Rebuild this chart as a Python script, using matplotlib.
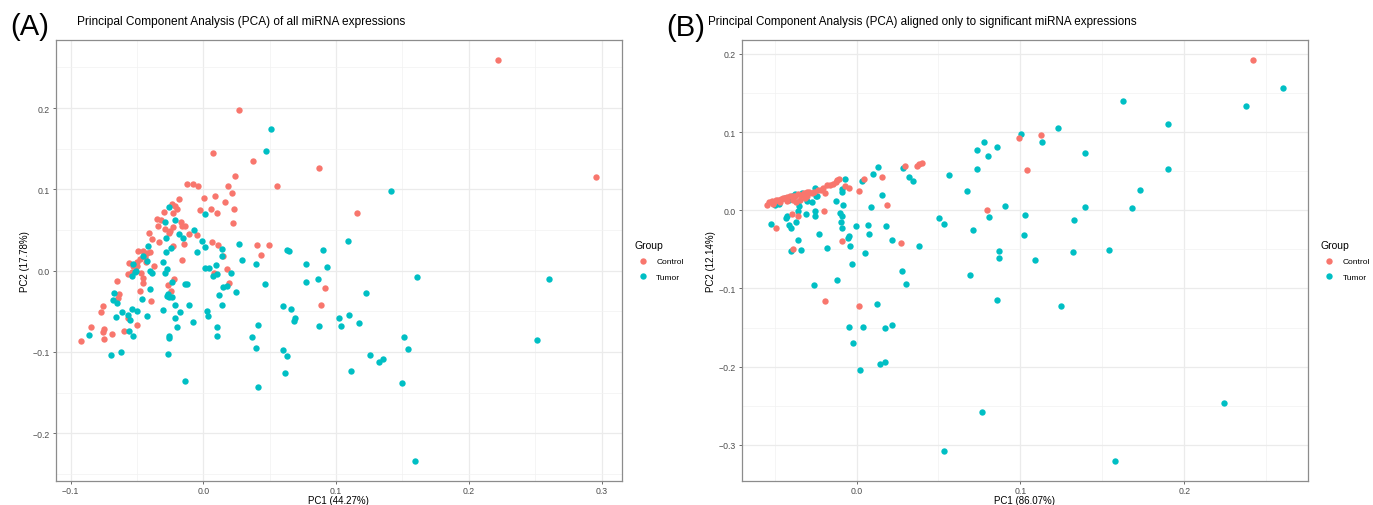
import matplotlib
matplotlib.use("Agg")
import matplotlib.pyplot as plt
from matplotlib.ticker import MultipleLocator, FuncFormatter

plt.rcParams["font.family"] = ["Liberation Sans", "DejaVu Sans"]

CONTROL_COLOR = "#F8766D"
TUMOR_COLOR = "#00BFC4"

# ---- panel A: all miRNA expressions ----
a_control_pc1 = [
    0.0269, 0.0075, 0.0372, 0.0869, 0.0553, 0.0241, -0.0126, -0.0075, -0.0040, 0.0188,
    0.0216, 0.0008, 0.0085, 0.0166, -0.0181, 0.0234, 0.0058, 0.0106, -0.0025, 0.0221,
    -0.0239, -0.0214, -0.0201, -0.0231, -0.0299, -0.0347, -0.0319, -0.0339, -0.0289, -0.0251,
    -0.0226, -0.0261, -0.0163, -0.0141, -0.0171, -0.0407, -0.0389, -0.0337, -0.0111, -0.0050,
    -0.0143, -0.0226, 0.0065, 0.0113, 0.0148, 0.0407, 0.0497, 0.0435, -0.0490, -0.0457,
    -0.0422, -0.0402, -0.0440, -0.0477, -0.0497, -0.0432, -0.0497, -0.0528, -0.0563, -0.0570,
    -0.0540, -0.0472, -0.0369, -0.0161, 0.0083, 0.0178, 0.0191, -0.0221, -0.0264, -0.0246,
    -0.0452, -0.0452, -0.0477, -0.0653, -0.0633, -0.0641, -0.0759, -0.0774, -0.0565, -0.0394,
    -0.0844, -0.0751, -0.0754, -0.0749, -0.0686, -0.0598, -0.0502, -0.0919, 0.0914, 0.0887,
    0.2223, 0.2960, 0.1156,
]
a_control_pc2 = [
    0.1980, 0.1443, 0.1345, 0.1259, 0.1046, 0.1164, 0.1062, 0.1062, 0.1041, 0.1041,
    0.0955, 0.0890, 0.0918, 0.0845, 0.0886, 0.0759, 0.0754, 0.0709, 0.0750, 0.0590,
    0.0816, 0.0791, 0.0758, 0.0705, 0.0726, 0.0636, 0.0627, 0.0554, 0.0513, 0.0492,
    0.0533, 0.0459, 0.0554, 0.0554, 0.0603, 0.0467, 0.0385, 0.0357, 0.0447, 0.0435,
    0.0328, 0.0308, 0.0357, 0.0316, 0.0185, 0.0316, 0.0316, 0.0197, 0.0242, 0.0242,
    0.0217, 0.0226, 0.0164, 0.0144, 0.0103, 0.0103, 0.0062, 0.0062, 0.0094, -0.0041,
    -0.0012, -0.0029, 0.0062, 0.0127, -0.0029, 0.0021, -0.0148, -0.0103, -0.0172, -0.0246,
    -0.0094, -0.0156, -0.0250, -0.0127, -0.0283, -0.0340, -0.0435, -0.0513, -0.0586, -0.0377,
    -0.0689, -0.0718, -0.0759, -0.0841, -0.0779, -0.0738, -0.0664, -0.0869, -0.0209, -0.0422,
    0.2590, 0.1157, 0.0714,
]
a_tumor_pc1 = [
    0.0507, 0.0470, -0.0259, -0.0291, -0.0214, 0.0013, -0.0070, -0.0181, -0.0151, -0.0281,
    -0.0013, 0.0013, -0.0050, 0.0271, 0.0291, 0.0397, 0.0633, 0.0648, 0.0899, 0.0774,
    0.0929, -0.0414, -0.0457, -0.0427, -0.0510, -0.0515, -0.0540, -0.0402, -0.0389, -0.0281,
    -0.0246, -0.0301, -0.0286, -0.0276, -0.0234, -0.0264, -0.0256, -0.0271, -0.0239, -0.0214,
    -0.0301, -0.0214, -0.0176, -0.0201, -0.0256, -0.0261, -0.0266, -0.0138, -0.0121, -0.0111,
    -0.0080, 0.0013, 0.0045, 0.0095, 0.0100, 0.0070, 0.0138, 0.0143, 0.0211, 0.0151,
    0.0181, 0.0116, 0.0143, 0.0030, 0.0038, 0.0100, 0.0100, 0.0244, 0.0465, 0.0603,
    0.0663, 0.0691, 0.0686, 0.0412, 0.0367, 0.0394, 0.0598, 0.0633, 0.0618, 0.0869,
    0.0771, 0.0862, -0.0673, -0.0678, -0.0653, -0.0658, -0.0615, -0.0535, -0.0502, -0.0570,
    -0.0553, -0.0560, -0.0528, -0.0422, -0.0460, -0.0402, -0.0862, -0.0693, -0.0618, -0.0528,
    -0.0140, 0.0412, 0.1410, 0.1088, 0.1613, 0.2607, 0.1228, 0.1020, 0.1100, 0.1040,
    0.1170, 0.1515, 0.1540, 0.1256, 0.1320, 0.1350, 0.1115, 0.1500, 0.2510, 0.1598,
]
a_tumor_pc2 = [
    0.1738, 0.1468, 0.0787, 0.0595, 0.0627, 0.0693, 0.0504, 0.0451, 0.0398, 0.0398,
    0.0369, 0.0287, 0.0226, 0.0328, 0.0135, 0.0086, 0.0258, 0.0242, 0.0258, 0.0082,
    0.0045, 0.0308, 0.0185, 0.0123, 0.0000, -0.0021, -0.0062, 0.0000, -0.0033, 0.0226,
    0.0283, 0.0103, -0.0029, 0.0021, -0.0135, -0.0287, -0.0328, -0.0308, -0.0320, -0.0418,
    -0.0484, -0.0582, -0.0504, -0.0693, -0.0808, -0.0824, -0.1025, -0.0168, -0.0168, -0.0422,
    -0.0627, 0.0033, 0.0033, 0.0070, -0.0041, -0.0070, 0.0267, 0.0185, -0.0033, -0.0205,
    -0.0185, -0.0299, -0.0422, -0.0492, -0.0558, -0.0689, -0.0808, -0.0262, -0.0164, -0.0431,
    -0.0472, -0.0578, -0.0623, -0.0664, -0.0820, -0.0955, -0.0972, -0.1046, -0.1259, -0.0681,
    -0.0139, -0.0103, -0.0271, -0.0357, -0.0398, -0.0574, -0.0504, -0.0472, -0.0500, -0.0541,
    -0.0607, -0.0738, -0.0800, -0.0558, -0.0349, -0.0226, -0.0791, -0.1033, -0.0996, 0.0078,
    -0.1357, -0.1430, 0.0980, 0.0370, -0.0081, -0.0098, -0.0274, -0.0580, -0.0545, -0.0676,
    -0.0650, -0.0810, -0.0960, -0.1040, -0.1120, -0.1086, -0.1234, -0.1385, -0.0849, -0.2337,
]

# ---- panel B: significant miRNA expressions only ----
b_control_pc1 = [
    -0.0544, -0.0532, -0.0518, -0.0504, -0.0491, -0.0477, -0.0463, -0.0451, -0.0437, -0.0422,
    -0.0406, -0.0390, -0.0373, -0.0355, -0.0341, -0.0321, -0.0304, -0.0288, -0.0300, -0.0274,
    -0.0260, -0.0233, -0.0219, -0.0203, -0.0178, -0.0162, -0.0141, -0.0125, -0.0117, -0.0105,
    -0.0070, -0.0044, -0.0192, -0.0467, -0.0427, -0.0390, -0.0369, -0.0345, -0.0314, -0.0512,
    0.0296, 0.0367, 0.0384, 0.0398, 0.0158, 0.0048, 0.0015, 0.0188, -0.0198, -0.0396,
    -0.0355, -0.0491, -0.0091, 0.0270, -0.0386, -0.0190, 0.0017, 0.2422, 0.0994, 0.1128,
    0.1039, 0.0799,
]
b_control_pc2 = [
    0.0068, 0.0102, 0.0119, 0.0102, 0.0127, 0.0136, 0.0145, 0.0153, 0.0162, 0.0170,
    0.0179, 0.0187, 0.0187, 0.0204, 0.0196, 0.0221, 0.0230, 0.0238, 0.0187, 0.0221,
    0.0230, 0.0255, 0.0264, 0.0281, 0.0324, 0.0324, 0.0332, 0.0358, 0.0383, 0.0400,
    0.0306, 0.0281, 0.0221, 0.0102, 0.0119, 0.0127, 0.0102, 0.0127, 0.0153, 0.0076,
    0.0571, 0.0571, 0.0592, 0.0604, 0.0426, 0.0400, 0.0251, 0.0068, -0.0013, -0.0047,
    -0.0077, -0.0230, -0.0388, -0.0418, -0.0494, -0.1155, -0.1228, 0.1922, 0.0929, 0.0967,
    0.0511, 0.0004,
]
b_tumor_pc1 = [
    -0.0524, -0.0497, -0.0471, -0.0437, -0.0410, -0.0410, -0.0396, -0.0375, -0.0335, -0.0325,
    -0.0253, -0.0239, -0.0247, -0.0355, -0.0349, -0.0355, -0.0304, -0.0274, -0.0422, -0.0430,
    -0.0410, -0.0402, -0.0369, -0.0308, -0.0253, -0.0253, -0.0125, -0.0091, -0.0070, -0.0080,
    0.0133, 0.0099, 0.0282, 0.0318, 0.0343, 0.0565, 0.0156, 0.0086, 0.0032, -0.0088,
    0.0506, 0.0534, -0.0101, -0.0087, -0.0095, -0.0087, -0.0003, 0.0070, 0.0076, 0.0180,
    0.0217, 0.0380, -0.0046, -0.0050, -0.0040, -0.0028, 0.0052, -0.0180, -0.0231, -0.0357,
    -0.0337, -0.0402, -0.0259, -0.0117, 0.0278, 0.0300, 0.0123, -0.0044, 0.0042, 0.0172,
    0.0219, -0.0020, 0.0143, 0.0172, 0.0020, 0.0534, 0.2600, 0.2376, 0.1625, 0.1898,
    0.1898, 0.1232, 0.1002, 0.1131, 0.0777, 0.0736, 0.0856, 0.0803, 0.1397, 0.0736,
    0.0677, 0.1729, 0.0905, 0.0809, 0.1027, 0.1395, 0.1682, 0.0709, 0.1328, 0.1023,
    0.0870, 0.0872, 0.1092, 0.1324, 0.1542, 0.0693, 0.0856, 0.1250, 0.0768, 0.2244,
    0.1580,
]
b_tumor_pc2 = [
    -0.0175, 0.0068, 0.0085, 0.0153, 0.0162, 0.0127, 0.0179, 0.0213, 0.0221, 0.0213,
    0.0281, 0.0187, 0.0179, 0.0102, 0.0059, -0.0005, 0.0119, 0.0102, -0.0069, -0.0103,
    -0.0188, -0.0230, -0.0145, -0.0047, -0.0013, -0.0069, 0.0115, 0.0272, 0.0400, 0.0068,
    0.0549, 0.0464, 0.0541, 0.0422, 0.0370, 0.0452, 0.0196, 0.0038, 0.0370, 0.0230,
    -0.0098, -0.0175, -0.0040, -0.0077, -0.0153, -0.0226, -0.0205, -0.0183, -0.0307, -0.0201,
    -0.0376, -0.0452, -0.0333, -0.0358, -0.0452, -0.0691, -0.0550, -0.0486, -0.0303, -0.0376,
    -0.0512, -0.0516, -0.0956, -0.0891, -0.0780, -0.0938, -0.1199, -0.1492, -0.1492, -0.1501,
    -0.1471, -0.1701, -0.1970, -0.1940, -0.2038, -0.3082, 0.1560, 0.1330, 0.1402, 0.1108,
    0.0524, 0.1048, 0.0976, 0.0869, 0.0877, 0.0771, 0.0805, 0.0694, 0.0728, 0.0524,
    0.0243, 0.0260, 0.0059, -0.0086, -0.0056, 0.0042, 0.0029, -0.0248, -0.0124, -0.0312,
    -0.0520, -0.0610, -0.0639, -0.0529, -0.0508, -0.0827, -0.1143, -0.1224, -0.2575, -0.2464,
    -0.3202,
]

W, H = 1373, 506


def _tick_fmt(v, _pos):
    return "{:.1f}".format(v + 0.0).replace("-", "\u2212")


def style_axes(ax, xlabel, ylabel, handles, labels):
    ax.margins(0.05)
    ax.xaxis.set_major_locator(MultipleLocator(0.1))
    ax.yaxis.set_major_locator(MultipleLocator(0.1))
    ax.xaxis.set_minor_locator(MultipleLocator(0.05))
    ax.yaxis.set_minor_locator(MultipleLocator(0.05))
    ax.xaxis.set_major_formatter(FuncFormatter(_tick_fmt))
    ax.yaxis.set_major_formatter(FuncFormatter(_tick_fmt))
    ax.grid(True, which="major", color="#EBEBEB", linewidth=0.9)
    ax.grid(True, which="minor", color="#F2F2F2", linewidth=0.5)
    ax.set_axisbelow(True)
    for spine in ax.spines.values():
        spine.set_color("#8C8C8C")
        spine.set_linewidth(0.9)
    ax.tick_params(which="major", length=2.5, width=0.6, color="#555555",
                   labelsize=6.3, labelcolor="#4D4D4D", pad=1.5)
    ax.tick_params(which="minor", length=0)
    ax.set_xlabel(xlabel, fontsize=7, va="center")
    ax.xaxis.set_label_coords(0.5, -0.043)
    ax.set_ylabel(ylabel, fontsize=7, labelpad=2)
    ax.legend(handles, labels, loc="center left", bbox_to_anchor=(1.012, 0.5), frameon=False,
              title="Group", title_fontsize=7.5, fontsize=6,
              handletextpad=0.6, labelspacing=0.9, alignment="left", borderpad=0.2)


fig = plt.figure(figsize=(W / 100, H / 100), dpi=100)

ax_a = fig.add_axes([55.7 / W, (H - 481.7) / H, (622 - 55.7) / W, (481.7 - 41) / H])
ca = ax_a.scatter(a_control_pc1, a_control_pc2, s=21, color=CONTROL_COLOR, linewidths=0)
ta = ax_a.scatter(a_tumor_pc1, a_tumor_pc2, s=21, color=TUMOR_COLOR, linewidths=0)
style_axes(ax_a, "PC1 (44.27%)", "PC2 (17.78%)", [ca, ta], ["Control", "Tumor"])

ax_b = fig.add_axes([741.7 / W, (H - 481.7) / H, (1308.3 - 741.7) / W, (481.7 - 41) / H])
tb = ax_b.scatter(b_tumor_pc1, b_tumor_pc2, s=21, color=TUMOR_COLOR, linewidths=0)
cb = ax_b.scatter(b_control_pc1, b_control_pc2, s=21, color=CONTROL_COLOR, linewidths=0)
style_axes(ax_b, "PC1 (86.07%)", "PC2 (12.14%)", [cb, tb], ["Control", "Tumor"])

fig.text(10 / W, 1 - 27 / H, "(A)", fontsize=21, va="center", ha="left")
fig.text(77 / W, 1 - 22 / H, "Principal Component Analysis (PCA) of all miRNA expressions",
         fontsize=8.6, va="center", ha="left")
fig.text(666 / W, 1 - 28 / H, "(B)", fontsize=21, va="center", ha="left")
fig.text(708 / W, 1 - 22 / H,
         "Principal Component Analysis (PCA) aligned only to significant miRNA expressions",
         fontsize=8.4, va="center", ha="left")

fig.savefig("out.png", dpi=100)
